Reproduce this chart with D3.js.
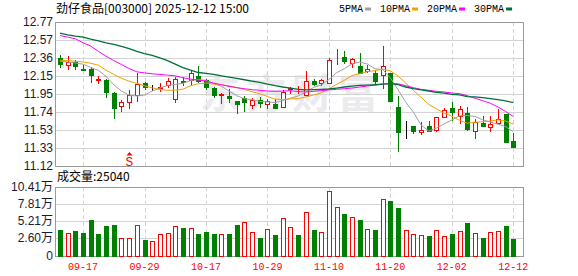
<!DOCTYPE html>
<html>
<head>
<meta charset="utf-8">
<script src="https://cdn.jsdelivr.net/npm/d3@7"></script>
<style>
  body { margin: 0; background: #fff; }
  svg { display: block; }
</style>
</head>
<body>
<script>
// ---- data ----
var title = "劲仔食品[003000] 2025-12-12 15:00";
var dates = ["09-12","09-15","09-16","09-17","09-18","09-19","09-22","09-23","09-24","09-25",
  "09-26","09-29","09-30","10-09","10-10","10-13","10-14","10-15","10-16","10-17",
  "10-20","10-21","10-22","10-23","10-24","10-27","10-28","10-29","10-30","10-31",
  "11-03","11-04","11-05","11-06","11-07","11-10","11-11","11-12","11-13","11-14",
  "11-17","11-18","11-19","11-20","11-21","11-24","11-25","11-26","11-27","11-28",
  "12-01","12-02","12-03","12-04","12-05","12-08","12-09","12-10","12-11","12-12"];
var opens = [12.363,12.280,12.317,12.238,12.238,12.113,12.113,11.958,11.810,11.863,
  11.939,12.079,12.025,12.022,12.052,11.893,12.102,12.109,12.158,12.109,
  12.022,11.939,11.931,11.874,11.908,11.825,11.882,11.833,11.833,11.806,
  12.011,11.969,11.939,12.098,12.071,12.071,12.359,12.378,12.302,12.272,
  12.219,12.192,12.166,12.185,11.806,11.520,11.579,11.514,11.579,11.537,
  11.681,11.795,11.692,11.730,11.530,11.617,11.575,11.617,11.719,11.408];
var highs = [12.401,12.382,12.340,12.280,12.261,12.158,12.120,11.977,11.878,11.996,
  12.185,12.090,12.052,12.071,12.136,12.147,12.147,12.211,12.272,12.120,
  12.033,11.958,12.007,11.874,11.931,11.908,11.912,11.893,11.893,11.996,
  12.030,12.045,12.211,12.120,12.120,12.363,12.469,12.439,12.363,12.423,
  12.287,12.223,12.499,12.196,11.931,11.636,11.579,11.628,11.643,11.689,
  11.795,11.855,11.817,11.806,11.666,11.692,11.692,11.780,11.719,11.503];
var lows = [12.249,12.230,12.223,12.211,12.071,12.067,11.901,11.662,11.742,11.780,
  11.863,11.996,11.988,11.969,12.014,11.844,12.045,12.052,12.071,11.996,
  11.908,11.833,11.844,11.719,11.742,11.780,11.795,11.780,11.780,11.795,
  11.946,11.946,11.931,12.045,12.045,12.060,12.280,12.299,12.249,12.185,
  12.185,12.060,12.003,11.863,11.287,11.439,11.492,11.484,11.514,11.514,
  11.674,11.643,11.605,11.522,11.439,11.567,11.514,11.605,11.401,11.333];
var closes = [12.291,12.317,12.268,12.230,12.166,12.120,11.969,11.795,11.863,11.939,
  12.067,12.025,12.025,12.030,12.098,12.120,12.086,12.185,12.102,12.026,
  11.939,11.950,11.901,11.833,11.863,11.878,11.852,11.870,11.795,11.977,
  12.018,11.973,12.098,12.060,12.109,12.336,12.367,12.325,12.348,12.196,
  12.234,12.098,12.272,11.874,11.514,11.520,11.525,11.537,11.530,11.681,
  11.768,11.742,11.780,11.548,11.628,11.579,11.605,11.666,11.401,11.340];
var prevClose = 12.36; // close of the day before the first candle
var volumes = [38600,34000,37100,34500,53700,32500,44600,46200,26000,26000,
  45600,23500,21400,32000,34000,44100,41600,41100,32500,35600,
  32500,32500,32500,46200,50700,35600,26500,39600,31000,56200,
  43100,31000,65300,38600,35600,97600,72900,62800,57800,53700,
  39600,38600,85000,82500,71900,38100,32000,30500,29500,38100,
  29000,32500,37100,49200,33500,26500,35600,37100,44600,25040];
var ma5 = [12.325,12.317,12.306,12.291,12.254,12.220,12.151,12.056,11.983,11.937,
  11.927,11.938,11.984,12.017,12.049,12.060,12.072,12.104,12.118,12.104,
  12.068,12.040,11.984,11.930,11.897,11.885,11.865,11.859,11.852,11.874,
  11.902,11.927,11.972,12.025,12.052,12.115,12.194,12.239,12.297,12.314,
  12.294,12.240,12.230,12.135,11.998,11.856,11.741,11.594,11.525,11.559,
  11.608,11.652,11.700,11.704,11.693,11.655,11.628,11.605,11.576,11.518];
var ma10 = [12.336,12.333,12.325,12.317,12.302,12.280,12.223,12.174,12.130,12.096,
  12.073,12.044,12.020,12.000,11.993,11.993,12.005,12.044,12.068,12.076,
  12.064,12.056,12.044,12.024,12.001,11.976,11.953,11.921,11.891,11.886,
  11.894,11.896,11.916,11.938,11.963,12.009,12.060,12.106,12.161,12.183,
  12.205,12.217,12.235,12.216,12.156,12.075,11.991,11.912,11.830,11.779,
  11.732,11.696,11.647,11.615,11.626,11.632,11.640,11.653,11.640,11.606];
var ma20 = [12.620,12.602,12.583,12.537,12.499,12.439,12.382,12.333,12.287,12.242,
  12.204,12.192,12.181,12.174,12.166,12.158,12.136,12.120,12.109,12.098,
  12.075,12.056,12.037,12.022,12.011,11.999,11.992,11.984,11.980,11.984,
  11.988,11.977,11.973,11.980,11.988,11.996,12.003,12.011,12.018,12.030,
  12.041,12.052,12.064,12.067,12.067,12.045,12.022,12.003,11.992,11.980,
  11.973,11.961,11.954,11.931,11.901,11.874,11.844,11.802,11.749,11.692];
var ma30 = [12.647,12.628,12.613,12.602,12.579,12.560,12.537,12.518,12.495,12.469,
  12.439,12.412,12.393,12.363,12.333,12.293,12.253,12.223,12.196,12.185,
  12.174,12.158,12.143,12.128,12.113,12.098,12.083,12.064,12.045,12.030,
  12.018,12.003,11.998,12.000,12.003,12.007,12.018,12.030,12.041,12.049,
  12.052,12.056,12.064,12.068,12.058,12.030,12.011,11.996,11.984,11.969,
  11.961,11.946,11.939,11.920,11.916,11.908,11.897,11.886,11.870,11.852];
var priceLabels = ["11.12","11.33","11.53","11.74","11.95","12.15","12.36","12.57","12.77"];
var priceMin = 11.12, priceMax = 12.775;
var volLabels = ["0","2.60万","5.21万","7.81万","10.41万"];
var volMax = 104100;
var xTickDates = ["09-17","09-29","10-17","10-29","11-10","11-20","12-02","12-12"];
var signalDates = ["09-25"];
var maNames = ["5PMA","10PMA","20PMA","30PMA"];
var maColors = ["#a0a0a0","#f0a000","#ff00ff","#00703a"];

// ---- layout ----
var W = 578, H = 276;
var left = 55, right = 522.5;
var pTop = 22, pBot = 166.4, vTop = 186.7, vBot = 255.5;
var red = "#ff0000", green = "#008000", grid = "#d3d3d3", frame = "#9a9a9a";

var svg = d3.select("body").append("svg").attr("width", W).attr("height", H);

var x = d3.scalePoint().domain(dates).range([60, 513.3]);
var yP = d3.scaleLinear().domain([priceMin, priceMax]).range([pBot, pTop]);
var yV = d3.scaleLinear().domain([0, volMax]).range([vBot, vTop]);

var priceVals = priceLabels.map(function (d, i) { return priceMin + i * (priceMax - priceMin) / (priceLabels.length - 1); });
var volVals = volLabels.map(function (d, i) { return i * volMax / (volLabels.length - 1); });

// watermark
svg.append("text").attr("x", 292).attr("y", 108)
  .attr("text-anchor", "middle")
  .style("font-family", "'Noto Sans CJK SC'").style("font-size", "40px").style("font-weight", "bold")
  .style("letter-spacing", "6px").style("fill", "#ebebee")
  .text("东方财富");

// grids
var g = svg.append("g").attr("shape-rendering", "crispEdges");
g.selectAll(".hp").data(priceVals.slice(1, -1)).enter().append("line")
  .attr("x1", left).attr("x2", right)
  .attr("y1", function (d) { return Math.round(yP(d)) + 0.5; })
  .attr("y2", function (d) { return Math.round(yP(d)) + 0.5; })
  .attr("stroke", grid);
g.selectAll(".hv").data(volVals.slice(1, -1)).enter().append("line")
  .attr("x1", left).attr("x2", right)
  .attr("y1", function (d) { return Math.round(yV(d)) + 0.5; })
  .attr("y2", function (d) { return Math.round(yV(d)) + 0.5; })
  .attr("stroke", grid);
[[pTop, pBot], [vTop, vBot]].forEach(function (r) {
  g.selectAll(null).data(xTickDates).enter().append("line")
    .attr("x1", function (d) { return Math.round(x(d)) + 0.5; })
    .attr("x2", function (d) { return Math.round(x(d)) + 0.5; })
    .attr("y1", r[0]).attr("y2", r[1])
    .attr("stroke", grid).attr("stroke-dasharray", "4,3");
});

// frames
[[pTop, pBot], [vTop, vBot]].forEach(function (r) {
  g.append("rect").attr("x", left + 0.5).attr("y", Math.round(r[0]) + 0.5)
    .attr("width", right - left).attr("height", Math.round(r[1]) - Math.round(r[0]))
    .attr("fill", "none").attr("stroke", frame);
});

// axis labels
svg.selectAll(".pl").data(priceVals).enter().append("text")
  .attr("x", 53).attr("y", function (d) { return yP(d) + 4; })
  .attr("text-anchor", "end")
  .style("font-family", "'Liberation Sans', Arial").style("font-size", "12px").style("fill", "#1a1a33")
  .text(function (d, i) { return priceLabels[i]; });
svg.selectAll(".vl").data(volVals).enter().append("text")
  .attr("x", 53).attr("y", function (d) { return yV(d) + 4; })
  .attr("text-anchor", "end")
  .style("font-family", "'Liberation Sans', 'Noto Sans CJK SC'").style("font-size", "12px").style("fill", "#1a1a33")
  .text(function (d, i) { return volLabels[i]; });
svg.selectAll(".xl").data(xTickDates).enter().append("text")
  .attr("x", function (d) { return x(d); }).attr("y", 270)
  .attr("text-anchor", "middle")
  .style("font-family", "'Liberation Mono', monospace").style("font-size", "10px").style("fill", red)
  .text(function (d) { return d; });

// title + legend
svg.append("text").attr("x", 56).attr("y", 13)
  .style("font-family", "'Noto Sans CJK SC'").style("font-size", "12px").style("fill", "#000")
  .text(title);
var lx = 339;
maNames.forEach(function (name, i) {
  var t = svg.append("text").attr("x", lx).attr("y", 12)
    .style("font-family", "'Liberation Mono', monospace").style("font-size", "10px").style("fill", "#000")
    .text(name);
  var w = t.node().getComputedTextLength();
  svg.append("rect").attr("x", lx + w + 2).attr("y", 7.5).attr("width", 6).attr("height", 3)
    .attr("fill", maColors[i]);
  lx += w + 17;
});
svg.append("text").attr("x", 57).attr("y", 181)
  .style("font-family", "'Noto Sans CJK SC'").style("font-size", "12px").style("fill", "#000")
  .text("成交量:" + volumes[volumes.length - 1]);

// candles
var idx = d3.range(dates.length);
var cg = svg.append("g").attr("shape-rendering", "crispEdges");
function cx(i) { return Math.round(x(dates[i])) + 0.5; }
function col(i) { return closes[i] > opens[i] ? red : closes[i] < opens[i] ? green : "#000"; }
cg.selectAll(".wick").data(idx).enter().append("line")
  .attr("x1", cx).attr("x2", cx)
  .attr("y1", function (i) { return yP(highs[i]); })
  .attr("y2", function (i) { return yP(lows[i]); })
  .attr("stroke", col);
cg.selectAll(".body").data(idx).enter().append("rect")
  .attr("x", function (i) { return cx(i) - 2; })
  .attr("width", 4)
  .attr("y", function (i) { return Math.round(yP(Math.max(opens[i], closes[i]))) + 0.5; })
  .attr("height", function (i) {
    return Math.max(0, Math.round(yP(Math.min(opens[i], closes[i]))) - Math.round(yP(Math.max(opens[i], closes[i]))));
  })
  .attr("fill", function (i) { return closes[i] > opens[i] ? "#fff" : col(i); })
  .attr("stroke", col);

// moving averages
var mas = [ma5, ma10, ma20, ma30];
mas.forEach(function (m, k) {
  svg.append("path").datum(m)
    .attr("d", d3.line().x(function (d, i) { return x(dates[i]); }).y(function (d) { return yP(d); }))
    .attr("fill", "none").attr("stroke", maColors[k]).attr("stroke-width", k === 3 ? 1.3 : 1);
});

// signal marker
signalDates.forEach(function (d) {
  var sx = Math.round(x(d)) + 0.5;
  svg.append("path").attr("d", "M" + (sx - 3) + ",155.5L" + (sx + 3) + ",155.5L" + sx + ",152Z").attr("fill", red);
  svg.append("text").attr("x", sx).attr("y", 165.5).attr("text-anchor", "middle")
    .style("font-family", "'Liberation Mono', monospace").style("font-size", "13px").style("fill", red)
    .text("S");
});

// volume bars
var vg = svg.append("g").attr("shape-rendering", "crispEdges");
vg.selectAll(".vol").data(idx).enter().append("rect")
  .attr("x", function (i) { return cx(i) - 2; })
  .attr("width", 4)
  .attr("y", function (i) { return Math.round(yV(volumes[i])) + 0.5; })
  .attr("height", function (i) { return Math.round(yV(0)) - Math.round(yV(volumes[i])); })
  .attr("fill", function (i) { return closes[i] >= (i ? closes[i - 1] : prevClose) ? "#fff" : green; })
  .attr("stroke", function (i) { return closes[i] >= (i ? closes[i - 1] : prevClose) ? red : green; });
</script>
</body>
</html>
